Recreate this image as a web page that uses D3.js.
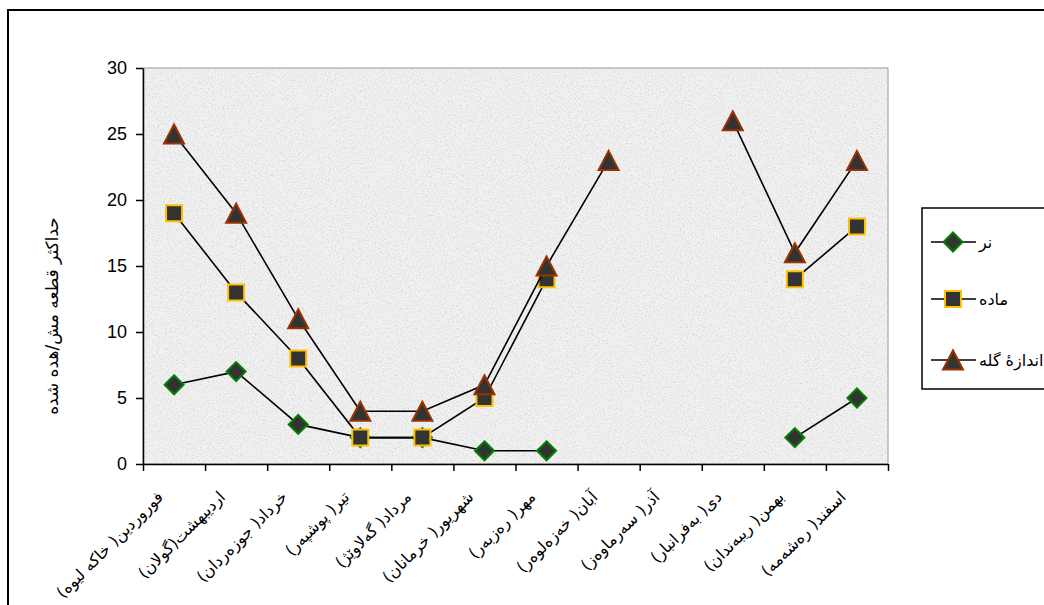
<!DOCTYPE html>
<html>
<head>
<meta charset="utf-8">
<script src="https://cdn.jsdelivr.net/npm/d3@7"></script>
<style>
  body { margin: 0; background: #fff; }
  svg { display: block; }
</style>
</head>
<body>
<div id="chart"></div>
<script>
const width = 1044, height = 605;
const plot = { left: 143, right: 888, top: 68, bottom: 464 };

// months (Persian + Kurdish names)
const months = [
  "فوروردین( خاکه لیوه)",
  "اردیبهشت(گولان)",
  "خرداد( جوزەردان)",
  "تیر( پوشپەر)",
  "مرداد( گەلاوێژ)",
  "شهریور( خرمانان)",
  "مهر( رەزبەر)",
  "آبان( خەزەلوەر)",
  "آذر( سەرماوەز)",
  "دی( بەفرانبار)",
  "بهمن( ریبەندان)",
  "اسفند( رەشەمە)"
];
const male   = [6, 7, 3, 2, 2, 1, 1, null, null, null, 2, 5];
const female = [19, 13, 8, 2, 2, 5, 14, null, null, null, 14, 18];
const herd   = [25, 19, 11, 4, 4, 6, 15, 23, null, 26, 16, 23];
const seriesNames = ["نر", "ماده", "اندازۀ گله"];
const yTicks = [0, 5, 10, 15, 20, 25, 30];
const yTitle = "حداکثر قطعه مش/هده شده";

const fontLatin = "'Liberation Sans', Arial, sans-serif";
const fontArabic = "'DejaVu Sans', 'Liberation Sans', sans-serif";

const svg = d3.select("#chart").append("svg")
  .attr("width", width)
  .attr("height", height);

// granite-like texture for the plot area
const defs = svg.append("defs");
const noise = defs.append("filter").attr("id", "noise")
  .attr("x", 0).attr("y", 0).attr("width", 1).attr("height", 1);
noise.append("feTurbulence")
  .attr("type", "fractalNoise")
  .attr("baseFrequency", 0.6)
  .attr("numOctaves", 3)
  .attr("seed", 7);
noise.append("feColorMatrix")
  .attr("type", "matrix")
  .attr("values", "0 0 0 0 0.5  0 0 0 0 0.5  0 0 0 0 0.5  1.3 0 0 0 -0.62");

// outer chart frame (runs off the right / bottom edge)
svg.append("rect")
  .attr("x", 8).attr("y", 10)
  .attr("width", 1100).attr("height", 700)
  .attr("fill", "none")
  .attr("stroke", "#000")
  .attr("stroke-width", 2);

const x = d3.scaleBand().domain(months).range([plot.left, plot.right]).padding(0);
const xEdge = d3.scaleLinear().domain([0, months.length]).range([plot.left, plot.right]);
const y = d3.scaleLinear().domain([0, 30]).range([plot.bottom, plot.top]);
const cx = m => x(m) + x.bandwidth() / 2;

// plot background
svg.append("rect")
  .attr("x", plot.left).attr("y", plot.top)
  .attr("width", plot.right - plot.left).attr("height", plot.bottom - plot.top)
  .attr("fill", "#f1f1f1")
  .attr("stroke", "#999")
  .attr("stroke-width", 1);
svg.append("rect")
  .attr("x", plot.left).attr("y", plot.top)
  .attr("width", plot.right - plot.left).attr("height", plot.bottom - plot.top)
  .attr("filter", "url(#noise)");

// y axis
const yAxis = svg.append("g")
  .attr("transform", `translate(${plot.left},0)`)
  .call(d3.axisLeft(y).tickValues(yTicks).tickSize(7).tickPadding(9).tickSizeOuter(0));
yAxis.select(".domain").attr("stroke", "#000").attr("stroke-width", 1.5);
yAxis.selectAll(".tick line").attr("stroke", "#000").attr("stroke-width", 1.5);
yAxis.selectAll(".tick text")
  .attr("font-family", fontLatin)
  .attr("font-size", 18)
  .attr("fill", "#000");

// x axis (ticks between categories)
const xAxis = svg.append("g")
  .attr("transform", `translate(0,${plot.bottom})`)
  .call(d3.axisBottom(xEdge).ticks(months.length).tickSize(7).tickFormat("").tickSizeOuter(0));
xAxis.select(".domain").attr("stroke", "#000").attr("stroke-width", 1.5);
xAxis.selectAll(".tick line").attr("stroke", "#000").attr("stroke-width", 1.5);

svg.append("g").selectAll("text")
  .data(months)
  .join("text")
  .attr("transform", d => `translate(${cx(d) - 10},${plot.bottom + 34}) rotate(-45)`)
  .attr("text-anchor", "end")
  .attr("font-family", fontArabic)
  .attr("font-size", 16)
  .attr("fill", "#000")
  .text(d => d);

// y title
svg.append("text")
  .attr("transform", `translate(58,316) rotate(-90)`)
  .attr("text-anchor", "middle")
  .attr("font-family", fontArabic)
  .attr("font-size", 17)
  .attr("fill", "#000")
  .text(yTitle);

// markers
const markers = {
  diamond: "M0,-9.5L9.5,0L0,9.5L-9.5,0Z",
  square: "M-8,-8H8V8H-8Z",
  triangle: "M0,-9.5L10,9.5L-10,9.5Z"
};
const series = [
  { name: seriesNames[0], values: male,   shape: markers.diamond,  stroke: "#008000" },
  { name: seriesNames[1], values: female, shape: markers.square,   stroke: "#FFC000" },
  { name: seriesNames[2], values: herd,   shape: markers.triangle, stroke: "#993300" }
];

const line = d3.line()
  .defined(d => d.v != null)
  .x(d => cx(d.m))
  .y(d => y(d.v));

series.forEach(s => {
  const pts = months.map((m, i) => ({ m: m, v: s.values[i] }));
  svg.append("path")
    .datum(pts)
    .attr("d", line)
    .attr("fill", "none")
    .attr("stroke", "#000")
    .attr("stroke-width", 1.6);
  svg.append("g").selectAll("path")
    .data(pts.filter(d => d.v != null))
    .join("path")
    .attr("transform", d => `translate(${cx(d.m)},${y(d.v)})`)
    .attr("d", s.shape)
    .attr("fill", "#333")
    .attr("stroke", s.stroke)
    .attr("stroke-width", 2);
});

// legend
const legend = svg.append("g");
legend.append("rect")
  .attr("x", 922).attr("y", 208)
  .attr("width", 200).attr("height", 181)
  .attr("fill", "#fff")
  .attr("stroke", "#000")
  .attr("stroke-width", 1.5);
const legendY = [242, 299, 360];
series.forEach((s, i) => {
  const g = legend.append("g").attr("transform", `translate(0,${legendY[i]})`);
  g.append("line")
    .attr("x1", 931).attr("x2", 976)
    .attr("stroke", "#000").attr("stroke-width", 1.6);
  g.append("path")
    .attr("transform", "translate(953,0)")
    .attr("d", s.shape)
    .attr("fill", "#333")
    .attr("stroke", s.stroke)
    .attr("stroke-width", 2);
  g.append("text")
    .attr("x", 979)
    .attr("dy", "0.35em")
    .attr("text-anchor", "start")
    .attr("font-family", fontArabic)
    .attr("font-size", 16)
    .attr("fill", "#000")
    .text(s.name);
});
</script>
</body>
</html>
